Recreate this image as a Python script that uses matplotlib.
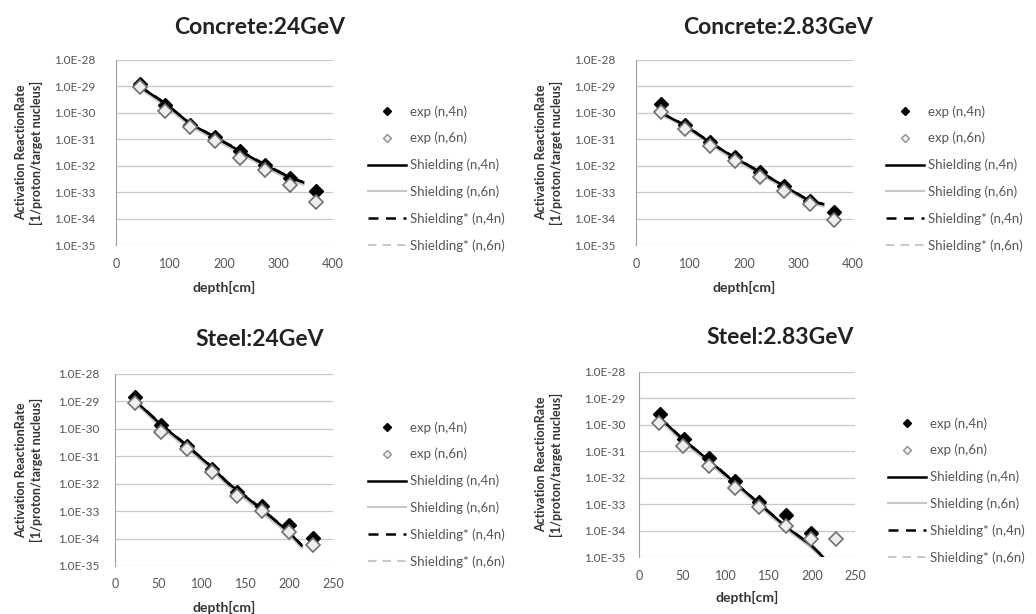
import matplotlib
matplotlib.use("Agg")
import matplotlib.pyplot as plt
from matplotlib.ticker import FixedLocator, FuncFormatter
from matplotlib.lines import Line2D
import numpy as np

plt.rcParams['font.family'] = ['Lato', 'DejaVu Sans']

titles = ["Concrete:24GeV", "Concrete:2.83GeV", "Steel:24GeV", "Steel:2.83GeV"]
xlims = [400, 400, 250, 250]
xticks_list = [[0, 100, 200, 300, 400], [0, 100, 200, 300, 400],
               [0, 50, 100, 150, 200, 250], [0, 50, 100, 150, 200, 250]]

# Concrete 24GeV
c24_depth_4n = [44, 91, 136, 183, 229, 275, 321, 369]
c24_exp_4n = [1.23e-29, 2.04e-30, 3.55e-31, 1.17e-31, 3.47e-32, 1.02e-32, 3.55e-33, 1.10e-33]
c24_depth_6n = [44, 91, 136, 183, 229, 275, 321, 369]
c24_exp_6n = [9.5e-30, 1.20e-30, 2.82e-31, 8.9e-32, 1.9e-32, 6.6e-33, 1.86e-33, 4.4e-34]
c24_sim_depth = [40, 91, 136, 183, 229, 275, 321, 345]
c24_sim_4n = [1.12e-29, 2.24e-30, 3.98e-31, 1.17e-31, 3.55e-32, 1.05e-32, 3.55e-33, 2.34e-33]
c24_sim_6n = [1.0e-29, 1.9e-30, 3.4e-31, 1.0e-31, 3.0e-32, 9.0e-33, 3.0e-33, 2.0e-33]
c24_simS_4n = [1.15e-29, 2.3e-30, 4.1e-31, 1.2e-31, 3.7e-32, 1.1e-32, 3.7e-33, 2.4e-33]
c24_simS_6n = [1.02e-29, 1.95e-30, 3.5e-31, 1.03e-31, 3.1e-32, 9.2e-33, 3.1e-33, 2.05e-33]

# Concrete 2.83GeV
c283_depth_4n = [47, 91, 137, 182, 228, 273, 320, 365]
c283_exp_4n = [2.14e-30, 3.55e-31, 7.6e-32, 2.09e-32, 6.0e-33, 1.78e-33, 4.8e-34, 1.82e-34]
c283_depth_6n = [47, 91, 137, 182, 228, 273, 320, 365]
c283_exp_6n = [1.05e-30, 2.51e-31, 5.6e-32, 1.51e-32, 3.9e-33, 1.15e-33, 3.5e-34, 8.7e-35]
c283_sim_depth = [42, 91, 137, 182, 228, 273, 320, 345]
c283_sim_4n = [1.1e-30, 3.3e-31, 7.5e-32, 2.0e-32, 5.8e-33, 1.7e-33, 4.6e-34, 3.5e-34]
c283_sim_6n = [1.0e-30, 3.0e-31, 6.5e-32, 1.7e-32, 5.0e-33, 1.5e-33, 4.0e-34, 3.0e-34]
c283_simS_4n = [1.12e-30, 3.4e-31, 7.7e-32, 2.05e-32, 6.0e-33, 1.75e-33, 4.7e-34, 3.6e-34]
c283_simS_6n = [1.02e-30, 3.1e-31, 6.7e-32, 1.75e-32, 5.1e-33, 1.55e-33, 4.1e-34, 3.1e-34]

# Steel 24GeV
s24_depth_4n = [23, 53, 82, 111, 140, 169, 199, 227]
s24_exp_4n = [1.48e-29, 1.38e-30, 2.4e-31, 3.55e-32, 5.2e-33, 1.51e-33, 3.2e-34, 1.07e-34]
s24_depth_6n = [23, 53, 82, 111, 140, 169, 199, 227]
s24_exp_6n = [9.1e-30, 7.4e-31, 1.82e-31, 2.57e-32, 3.5e-33, 1.0e-33, 1.74e-34, 6.0e-35]
s24_sim_depth = [19, 53, 82, 111, 130, 140, 169, 199, 214]
s24_sim_4n = [1.4e-29, 1.4e-30, 2.5e-31, 4.0e-32, 1.0e-32, 6.0e-33, 1.1e-33, 1.8e-34, 5.6e-35]
s24_sim_6n = [1.2e-29, 1.2e-30, 2.1e-31, 3.3e-32, 8.5e-33, 5.0e-33, 9.0e-34, 1.5e-34, 4.8e-35]
s24_simS_4n = [1.45e-29, 1.45e-30, 2.6e-31, 4.1e-32, 1.05e-32, 6.2e-33, 1.15e-33, 1.85e-34, 5.8e-35]
s24_simS_6n = [1.22e-29, 1.22e-30, 2.15e-31, 3.4e-32, 8.7e-33, 5.1e-33, 9.2e-34, 1.55e-34, 5.0e-35]

# Steel 2.83GeV
s283_depth_4n = [24, 52, 81, 111, 139, 170, 199]
s283_exp_4n = [2.63e-30, 3.0e-31, 5.6e-32, 7.6e-33, 1.2e-33, 4.0e-34, 8.3e-35]
s283_depth_6n = [23, 51, 81, 111, 139, 170, 199, 228]
s283_exp_6n = [1.2e-30, 1.58e-31, 2.75e-32, 4.2e-33, 7.8e-34, 1.48e-34, 4.7e-35, 4.6e-35]
s283_sim_depth = [23, 52, 81, 111, 139, 170, 199, 213]
s283_sim_4n = [2.0e-30, 2.6e-31, 4.5e-32, 6.5e-33, 1.05e-33, 1.4e-34, 2.8e-35, 1.0e-35]
s283_sim_6n = [1.7e-30, 2.2e-31, 3.8e-32, 5.5e-33, 8.8e-34, 1.2e-34, 2.4e-35, 9.0e-36]
s283_simS_4n = [2.05e-30, 2.65e-31, 4.6e-32, 6.6e-33, 1.07e-33, 1.43e-34, 2.9e-35, 1.02e-35]
s283_simS_6n = [1.75e-30, 2.25e-31, 3.9e-32, 5.6e-33, 9.0e-34, 1.22e-34, 2.45e-35, 9.2e-36]

panels = [
    (c24_depth_4n, c24_exp_4n, c24_depth_6n, c24_exp_6n, c24_sim_depth, c24_sim_4n, c24_sim_6n, c24_simS_4n, c24_simS_6n),
    (c283_depth_4n, c283_exp_4n, c283_depth_6n, c283_exp_6n, c283_sim_depth, c283_sim_4n, c283_sim_6n, c283_simS_4n, c283_simS_6n),
    (s24_depth_4n, s24_exp_4n, s24_depth_6n, s24_exp_6n, s24_sim_depth, s24_sim_4n, s24_sim_6n, s24_simS_4n, s24_simS_6n),
    (s283_depth_4n, s283_exp_4n, s283_depth_6n, s283_exp_6n, s283_sim_depth, s283_sim_4n, s283_sim_6n, s283_simS_4n, s283_simS_6n),
]

legend_labels = ["exp (n,4n)", "exp (n,6n)", "Shielding (n,4n)", "Shielding (n,6n)",
                 "Shielding* (n,4n)", "Shielding* (n,6n)"]

W, H = 1036, 614
fig = plt.figure(figsize=(W / 100, H / 100), dpi=100)

# axes boxes in pixels: left, right, top, bottom
boxes = [(116, 333, 60, 245), (636, 853, 60, 245), (115, 333, 374, 566), (639, 855, 372, 557)]
title_pos = [(260, 28), (778, 28), (260, 339), (780, 338)]
xlabel_y = [287, 287, 607, 597]
ylabel_x = [29, 549, 29, 549]
legend_pos = [(368, 105), (886, 105), (368, 421), (888, 417)]
ypads = [15, 15, 11, 10]

GRID = '#c8c8c8'
TXT = '#555555'
LIGHT = '#c8c8c8'

for i, (box, data) in enumerate(zip(boxes, panels)):
    l, r, t, b = box
    ax = fig.add_axes([l / W, 1 - b / H, (r - l) / W, (b - t) / H])
    d4, e4, d6, e6, sd, s4, s6, ss4, ss6 = data
    ax.plot(sd, s6, color=LIGHT, lw=2.2, zorder=2)
    ax.plot(sd, ss6, color=LIGHT, lw=2.2, ls=(0, (5, 3)), zorder=2)
    ax.plot(sd, s4, color='black', lw=1.8, zorder=3)
    ax.plot(sd, ss4, color='black', lw=1.8, ls=(0, (5, 3)), zorder=3)
    ax.plot(d4, e4, ls='none', marker='D', ms=7, mfc='black', mec='black', zorder=4)
    ax.plot(d6, e6, ls='none', marker='D', ms=7, mfc='#eeeeee', mec='#707070', mew=1.2, zorder=5)
    ax.set_yscale('log')
    ax.set_ylim(1e-35, 1e-28)
    ax.set_xlim(0, xlims[i])
    ax.yaxis.set_major_locator(FixedLocator([10.0 ** k for k in range(-35, -27)]))
    ax.yaxis.set_minor_locator(FixedLocator([]))
    ax.yaxis.set_major_formatter(FuncFormatter(lambda v, p: "1.0E%d" % int(round(np.log10(v)))))
    ax.set_xticks(xticks_list[i])
    ax.grid(axis='y', color=GRID, lw=0.9)
    ax.set_axisbelow(True)
    for s in ['top', 'right', 'bottom']:
        ax.spines[s].set_visible(False)
    ax.spines['left'].set_color('#a0a0a0')
    ax.tick_params(axis='y', length=0, labelsize=8.5, colors=TXT, pad=ypads[i])
    ax.tick_params(axis='x', length=0, labelsize=9, colors=TXT, pad=9)
    fig.text(title_pos[i][0] / W, 1 - title_pos[i][1] / H, titles[i], ha='center', va='center',
             fontsize=16.5, fontweight='bold', color='#222222')
    fig.text((l + r) / 2 / W, 1 - xlabel_y[i] / H, "depth[cm]", ha='center', va='center',
             fontsize=10, fontweight='bold', color='#333333')
    ycen = (t + b) / 2
    fig.text(ylabel_x[i] / W, 1 - ycen / H, "Activation ReactionRate\n[1/proton/target nucleus]",
             rotation=90, ha='center', va='center', fontsize=9, fontweight='bold',
             color='#333333', linespacing=1.3)
    handles = [
        Line2D([], [], ls='none', marker='D', ms=4.5, mfc='black', mec='black'),
        Line2D([], [], ls='none', marker='D', ms=4.5, mfc='#eeeeee', mec='#909090'),
        Line2D([], [], color='black', lw=1.8),
        Line2D([], [], color=LIGHT, lw=1.5),
        Line2D([], [], color='black', lw=1.8, ls=(0, (4, 3))),
        Line2D([], [], color=LIGHT, lw=1.5, ls=(0, (4, 3))),
    ]
    lx, ly = legend_pos[i]
    fig.legend(handles, legend_labels, loc='upper left', bbox_to_anchor=(lx / W, 1 - ly / H),
               frameon=False, fontsize=9.5, labelcolor=TXT, handlelength=2.9, handletextpad=0.3,
               labelspacing=1.08, borderpad=0, borderaxespad=0)

fig.savefig("out.png", dpi=100)
